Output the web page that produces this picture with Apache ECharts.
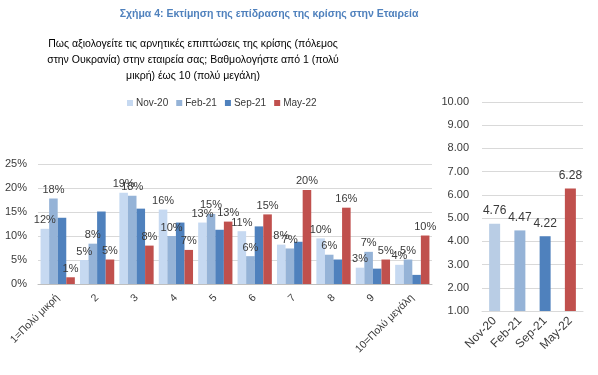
<!DOCTYPE html>
<html>
<head>
<meta charset="utf-8">
<script src="https://cdn.jsdelivr.net/npm/echarts@6/dist/echarts.min.js"></script>
<style>
html,body{margin:0;padding:0;background:#fff;}
#chart{width:598px;height:375px;}
</style>
</head>
<body>
<div id="chart"></div>
<script>
var categories = ['1=Πολύ μικρή','2','3','4','5','6','7','8','9','10=Πολύ μεγάλη'];
var nov20 = [11.5, 5.0, 19.0, 15.5, 12.8, 11.0, 8.2, 9.5, 3.4, 4.0];
var feb21 = [17.8, 8.4, 18.4, 10.0, 14.6, 5.8, 7.4, 6.1, 6.7, 5.1];
var sep21 = [13.8, 15.1, 15.7, 12.8, 11.3, 12.0, 8.8, 5.1, 3.2, 1.9];
var may22 = [1.4, 5.1, 8.0, 7.1, 13.0, 14.5, 19.6, 15.9, 5.1, 10.1];
var periods = ['Nov-20','Feb-21','Sep-21','May-22'];
var averages = [4.76, 4.47, 4.22, 6.28];

var colors = ['#c6d9f1','#95b3d7','#4f81bd','#c0504d'];
var avgColors = ['#b9cde5','#95b3d7','#4f81bd','#c0504d'];
var font = "'Liberation Sans', Arial, sans-serif";
var txt = '#3a3a3a';

var myChart = echarts.init(document.getElementById('chart'));

function pctLabel(show){
    return {
        show: show,
        position: 'top',
        distance: 3,
        fontFamily: font,
        fontSize: 11,
        color: txt,
        formatter: function(p){ return Math.round(p.value) + '%'; }
    };
}

var seriesData = [nov20, feb21, sep21, may22];
var series = [];
for (var i = 0; i < periods.length; i++) {
    series.push({
        type: 'bar',
        name: periods[i],
        xAxisIndex: 0,
        yAxisIndex: 0,
        data: seriesData[i],
        barGap: '0%',
        barCategoryGap: '13%',
        itemStyle: { color: colors[i] },
        label: pctLabel(i !== 2)//---Sep-21 has no labels
    });
}
series.push({
    type: 'bar',
    name: 'avg',
    xAxisIndex: 1,
    yAxisIndex: 1,
    barWidth: 11,
    data: averages.map(function(v, k){
        return { value: v, itemStyle: { color: avgColors[k] } };
    }),
    label: {
        show: true,
        position: 'top',
        distance: 7,
        fontFamily: font,
        fontSize: 12,
        color: txt,
        formatter: function(p){ return p.value.toFixed(2); }
    }
});

var option = {
    backgroundColor: '#fff',
    animation: false,
    title: [
        {
            text: 'Σχήμα 4: Εκτίμηση της επίδρασης της κρίσης στην Εταιρεία',
            left: 264,
            top: 4,
            textAlign: 'center',
            textStyle: { fontFamily: font, fontSize: 10.5, fontWeight: 'bold', color: '#4f81bd' }
        },
        {
            text: 'Πως αξιολογείτε τις αρνητικές επιπτώσεις της κρίσης (πόλεμος\nστην Ουκρανία) στην εταιρεία σας; Βαθμολογήστε από 1 (πολύ\nμικρή) έως 10 (πολύ μεγάλη)',
            left: 188,
            top: 31,
            textAlign: 'center',
            textStyle: { fontFamily: font, fontSize: 10.5, fontWeight: 'normal', color: '#000', lineHeight: 16, align: 'center' }
        }
    ],
    legend: {
        data: periods,
        left: 122,
        top: 93,
        icon: 'rect',
        itemWidth: 6,
        itemHeight: 6,
        itemGap: 8,
        textStyle: { fontFamily: font, fontSize: 10, color: txt, padding: [0,0,0,-2] }
    },
    grid: [
        { left: 38, right: 166, top: 164, bottom: 91 },
        { left: 482, right: 15, top: 102, bottom: 64 }
    ],
    xAxis: [
        {
            type: 'category',
            gridIndex: 0,
            data: categories,
            axisTick: { show: false },
            axisLine: { lineStyle: { color: '#bfbfbf' } },
            axisLabel: { rotate: 45, interval: 0, margin: 12, fontFamily: font, fontSize: 10.5, color: txt }
        },
        {
            type: 'category',
            gridIndex: 1,
            data: periods,
            axisTick: { show: false },
            axisLine: { lineStyle: { color: '#d9d9d9' } },
            axisLabel: { rotate: 45, interval: 0, margin: 8, fontFamily: font, fontSize: 12, color: txt }
        }
    ],
    yAxis: [
        {
            type: 'value',
            gridIndex: 0,
            min: 0,
            max: 25,
            interval: 5,
            splitLine: { lineStyle: { color: '#d9d9d9' } },
            axisLabel: { margin: 11, fontFamily: font, fontSize: 11, color: txt, formatter: '{value}%' }
        },
        {
            type: 'value',
            gridIndex: 1,
            min: 1,
            max: 10,
            interval: 1,
            splitLine: { lineStyle: { color: '#d9d9d9' } },
            axisLabel: { margin: 13, fontFamily: font, fontSize: 11, color: txt,
                formatter: function(v){ return v.toFixed(2); } }
        }
    ],
    series: series
};

myChart.setOption(option);
</script>
</body>
</html>
